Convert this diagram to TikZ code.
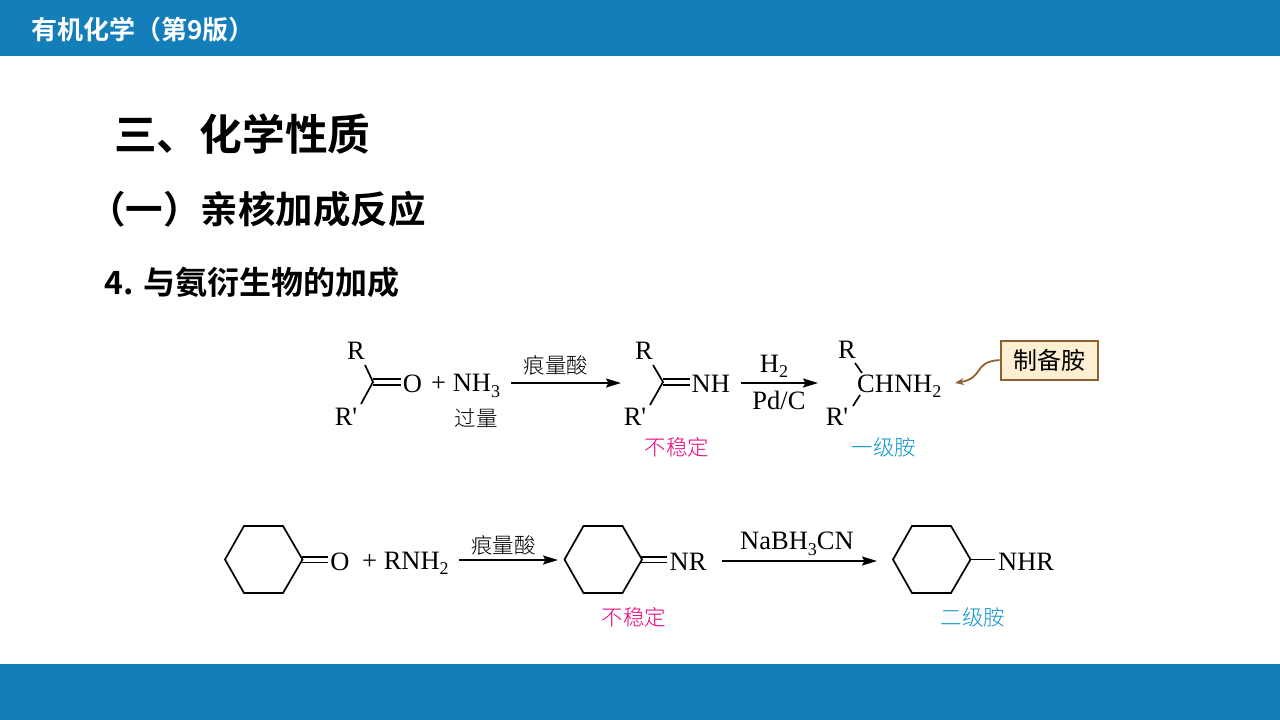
\documentclass[tikz,border=0pt]{standalone}
\usepackage{fontspec}
\usetikzlibrary{arrows.meta}
\setmainfont{Liberation Serif}
\newfontfamily\cjk{Noto Sans CJK SC}
\newfontfamily\cjkbold{Noto Sans CJK SC Bold}
\newfontfamily\cjklight{Noto Sans CJK SC Light}
\newcommand{\lowidx}[1]{\raisebox{-5.5pt}{\fontsize{18}{18}\selectfont #1}}
\definecolor{barblue}{HTML}{137EBA}
\definecolor{unstable}{HTML}{E6007E}
\definecolor{amine}{HTML}{0E94CC}
\definecolor{noteedge}{HTML}{8F6030}
\definecolor{notefill}{HTML}{FDEFD2}
\tikzset{
  bar/.style={fill=barblue, draw=none},
  heading/.style={anchor=west, inner sep=0pt},
  chem/.style={inner sep=0pt, font=\fontsize{26.5}{26.5}\selectfont},
  chemcn/.style={inner sep=0pt, font=\cjklight\fontsize{21.5}{21.5}\selectfont},
  bond/.style={line width=1.7pt},
  reactarrow/.style={line width=1.6pt, -{Stealth[length=15pt,width=9pt,inset=2.5pt]}},
}
\begin{document}
\begin{tikzpicture}[x=1pt,y=-1pt]
\useasboundingbox (0,0) rectangle (1280,720);

\fill[bar] (0,0) rectangle (1280,56);
\fill[bar] (0,664) rectangle (1280,720);

\node[heading, text=white, font=\cjkbold\fontsize{26}{26}\selectfont] (booktitle) at (31,30) {有机化学（第9版）};
\node[heading, font=\cjkbold\fontsize{42.7}{42.7}\selectfont] (sectitle) at (114,134) {三、化学性质};
\node[heading, font=\cjkbold\fontsize{37.5}{37.5}\selectfont] (subtitle) at (88,209) {（一）亲核加成反应};
\node[heading, font=\cjkbold\fontsize{32}{32}\selectfont] (subsub) at (104,282) {4. 与氨衍生物的加成};

% first reaction
\node[chem] (ketoR) at (356,351) {R};
\node[chem] (ketoRp) at (346,417) {R\textquotesingle};
\coordinate (ketoC) at (373,382);
\draw[bond] (365,365) -- (ketoC) -- (361,404);
\draw[bond] (373,379.3) -- (401,379.3);
\draw[bond] (373,385) -- (401,385);
\node[chem] (ketoO) at (412.5,384) {O};
\node[chem, anchor=base west] (nhthree) at (431,391.5) {+ NH\lowidx{3}};
\node[chemcn] (excess) at (476,418) {过量};

\coordinate (arrAa) at (511,383);
\coordinate (arrAb) at (621,383);
\draw[reactarrow] (arrAa) -- (arrAb);
\node[chemcn] (acidA) at (556,365) {痕量酸};

\node[chem] (imineR) at (644,351) {R};
\node[chem] (imineRp) at (635,417) {R\textquotesingle};
\coordinate (imineC) at (663,382);
\draw[bond] (653,365) -- (imineC) -- (650,405);
\draw[bond] (663,379.3) -- (690,379.3);
\draw[bond] (663,385) -- (690,385);
\node[chem, anchor=base west] (imineNH) at (691.5,392) {NH};
\node[chemcn, text=unstable] (unstableA) at (677,447) {不稳定};

\coordinate (arrBa) at (741,383);
\coordinate (arrBb) at (818,383);
\draw[reactarrow] (arrBa) -- (arrBb);
\node[chem, anchor=base] (hydrogen) at (774,372) {H\lowidx{2}};
\node[chem, anchor=base] (pdc) at (779,409.5) {Pd/C};

\node[chem] (amineR) at (847,350) {R};
\node[chem] (amineRp) at (837,417) {R\textquotesingle};
\draw[bond] (855,363) -- (862,373);
\draw[bond] (853,406) -- (860,395);
\node[chem, anchor=base west] (chnh) at (857,392) {CHNH\lowidx{2}};
\node[chemcn, text=amine] (primary) at (884,447) {一级胺};

\node[draw=noteedge, fill=notefill, line width=2pt, minimum width=97pt, minimum height=39pt, inner sep=0pt, font=\cjk\fontsize{24}{24}\selectfont] (note) at (1049,360) {制备胺};
\coordinate (notetip) at (955,383);
\draw[noteedge, line width=1.8pt, -{Stealth[length=9pt,width=7pt]}] (note.west) .. controls (972,362) and (985,378) .. (notetip);

% second reaction, the same ring three times
\foreach \dx in {0,339.5,668}
{
\begin{scope}[xshift=\dx pt]
\draw[bond, line join=miter] (225,559.5)--(244,526)--(283,526)--(302.5,559.5)--(283,593)--(244,593)--cycle;
\end{scope}
}
\draw[bond] (302,557) -- (328,557);
\draw[bond] (302,562.5) -- (328,562.5);
\node[chem] (ringO) at (340,561.5) {O};
\node[chem, anchor=base west] (rnh) at (362,569) {+ RNH\lowidx{2}};

\coordinate (arrCa) at (459,560);
\coordinate (arrCb) at (558,560);
\draw[reactarrow] (arrCa) -- (arrCb);
\node[chemcn] (acidB) at (503.5,545) {痕量酸};

\draw[bond] (641,557) -- (667,557);
\draw[bond] (641,562.5) -- (667,562.5);
\node[chem, anchor=base west] (ringNR) at (669.5,570) {NR};
\node[chemcn, text=unstable] (unstableB) at (634,617) {不稳定};

\coordinate (arrDa) at (722,561);
\coordinate (arrDb) at (877,561);
\draw[reactarrow] (arrDa) -- (arrDb);
\node[chem, anchor=base] (nabh) at (797,549.5) {NaBH\lowidx{3}CN};

\draw[bond] (971,559.5) -- (995,559.5);
\node[chem, anchor=base west] (ringNHR) at (998,570) {NHR};
\node[chemcn, text=amine] (secondary) at (973,617) {二级胺};

\end{tikzpicture}
\end{document}
